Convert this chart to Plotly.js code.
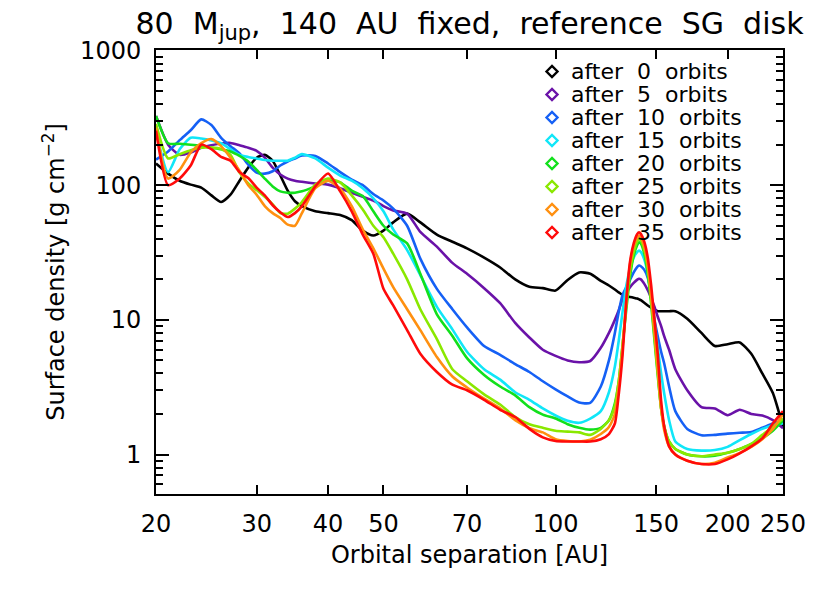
<!DOCTYPE html>
<html>
<head>
<meta charset="utf-8">
<script src="https://cdn.plot.ly/plotly-3.0.1.min.js"></script>
<style>
  html, body { margin: 0; padding: 0; background: #fff; }
  #plot { width: 830px; height: 593px; }
</style>
</head>
<body>
<div id="plot"></div>
<script>
// orbital separation grid [AU]
const radius = [20,21,22,23,24,25,26,27,28,29,30,31,32,33,34,35,36,38,40,42,44,46,48,50,
  52,55,58,62,66,70,75,80,85,90,95,100,105,110,115,120,
  124,127,129,131,133,135,137,139,140,141,143,145,147,149,151,153,155,158,162,
  170,180,190,200,210,220,230,240,250];

// surface density [g cm^-2], one array per snapshot
const after0 = [145,122,108,101,96,84,75,85,108,135,160,168,152,118,91,76,70,64,62,60,55,46,42.3,46,
  53,61.5,53,43,38,34,29,24.5,20,17.6,17.2,16.5,19.8,22.5,22,19.5,
  18,16.8,16,15.3,15,14.8,14.6,14.4,14.2,14.0,13.4,12.8,12.3,11.9,11.6,11.6,11.6,11.6,11.6,
  10.2,8.0,6.4,6.6,6.8,5.6,4.0,2.86,1.6];
const after5 = [327,200,168,175,190,198,204,206,198,190,180,160,135,120,112,108,106,103,101,95,88,82,77,70,
  65,61.5,45,35,26.5,22,17.2,13.3,9.5,7.4,6.0,5.4,5.0,4.85,4.95,6.2,
  8.0,10,11.8,14.2,16,17.5,18.8,19.9,20.2,20,18.5,16.6,14.5,12.5,10.5,9.0,7.5,6.0,4.3,
  3.0,2.25,2.2,1.96,2.15,2.0,1.95,1.8,1.57];
const after10 = [155,178,216,256,308,280,225,195,172,142,124,122,127,140,150,158,166,165,145,125,110,100,86,77,
  67,50,28.5,17,12,8.8,6.4,5.5,4.7,4.1,3.5,3.05,2.7,2.43,2.42,3.2,
  5.0,8.0,11.5,15.3,17.5,19.8,22.5,24.7,25.3,25,23.5,20.5,15.5,10,7.5,5.8,4.7,3.2,2.1,
  1.55,1.39,1.40,1.43,1.45,1.47,1.58,1.7,1.78];
const after15 = [254,125,185,225,222,215,205,185,168,162,158,154,152,152,152,160,170,158,135,118,108,95,80,64,
  47,33,21.5,12.5,8.5,5.8,4.3,3.6,2.9,2.55,2.2,1.95,1.78,1.72,1.85,2.1,
  2.9,4.5,7,11.5,18,24,29,32,32.7,32,28,22,15,9.5,6.2,4.0,2.8,1.8,1.25,
  1.1,1.07,1.08,1.14,1.28,1.42,1.55,1.65,1.7];
const after20 = [327,205,203,200,196,190,185,178,165,150,130,112,98,90,88,88,90,98,108,105,91,83,64,50,
  43,37,22,11,7.6,5.2,3.9,3.2,2.75,2.25,1.98,1.85,1.68,1.58,1.53,1.58,
  1.8,2.4,3.5,6.5,12,21,30,36,37.7,37,31,22,13,7,3.8,2.2,1.6,1.25,1.1,
  1.0,0.97,0.98,1.03,1.1,1.2,1.32,1.5,1.8];
const after25 = [285,158,170,182,190,190,186,168,124,103,92,82,72,62,61.5,67,75,101,112,105,84,66,50,41,
  31,20,12,7.2,4.3,3.5,2.8,2.35,1.9,1.68,1.58,1.5,1.48,1.46,1.4,1.55,
  1.8,2.3,3.5,6.5,13,23,32,38.5,40,39,33,24,14,7.5,4.0,2.2,1.6,1.25,1.1,
  1.0,0.97,1.0,1.03,1.1,1.2,1.4,1.6,1.85];
const after30 = [267,112,130,175,205,220,195,160,128,100,85,70,62,57,51,50,62,95,108,94,70,47,34,24,
  17.5,12,8.4,5.3,3.8,3.15,2.6,2.2,1.8,1.57,1.46,1.3,1.26,1.25,1.29,1.42,
  1.6,2.0,3.2,6.2,14,26,35.5,41,42.3,41,35,26,15,8,4.2,2.2,1.5,1.15,1.0,
  0.9,0.85,0.87,0.95,1.03,1.14,1.3,1.55,2.0];
const after35 = [254,100,112,140,200,185,162,152,125,113,96,84,71,63,58,62,70,98,122,90,64,43,31,17,
  12.8,8.4,5.6,4.1,3.3,3.0,2.55,2.15,1.9,1.55,1.34,1.26,1.25,1.25,1.25,1.3,
  1.42,1.7,2.8,5.5,14,27,37,43.5,44.7,43.5,38,29,18,10,5.5,2.5,1.6,1.15,1.0,
  0.9,0.85,0.85,0.92,1.02,1.15,1.32,1.7,2.1];

const orbits = [0, 5, 10, 15, 20, 25, 30, 35];
const series = [after0, after5, after10, after15, after20, after25, after30, after35];
const colors = ['#000000', '#6a12a8', '#1560f5', '#10e6f8', '#12e01c', '#8ae800', '#ff9010', '#ff0a0a'];

const xTicks = [20, 30, 40, 50, 70, 100, 150, 200, 250];
const yTicks = [1, 10, 100, 1000];
const yMinor = [0.6,0.7,0.8,0.9, 2,3,4,5,6,7,8,9, 20,30,40,50,60,70,80,90, 200,300,400,500,600,700,800,900];

const font = 'DejaVu Sans, Verdana, sans-serif';
const gap = '\u00a0 ';  // IDL fonts space words widely

const traces = series.map(function(y, i) {
    return {
        type: 'scatter',
        mode: 'lines',
        x: radius,
        y: y,
        name: 'after ' + orbits[i] + ' orbits',
        line: { color: colors[i], width: 2.6, shape: 'spline', smoothing: 0.6 },
        showlegend: false
    };
});

// legend drawn by hand, IDL style (tight rows, open diamonds)
const legTop = 71.5, legStep = 23, plotTop = 50, plotH = 444, plotL = 156, plotW = 627;
const annotations = [];
const shapes = [];
orbits.forEach(function(n, i) {
    const py = legTop + i * legStep;
    const yp = 1 - (py - plotTop) / plotH;
    const xc = (552 - plotL) / plotW, dx = 5.5 / plotW, dy = 5.5 / plotH;
    shapes.push({
        type: 'path', xref: 'paper', yref: 'paper',
        path: 'M' + (xc - dx) + ',' + yp + ' L' + xc + ',' + (yp + dy) + ' L' + (xc + dx) + ',' + yp +
              ' L' + xc + ',' + (yp - dy) + ' Z',
        line: { color: colors[i], width: 2.4 }
    });
    annotations.push({
        xref: 'paper', yref: 'paper', x: (570 - plotL) / plotW, y: yp,
        xanchor: 'left', yanchor: 'middle', showarrow: false, height: 23, borderpad: 0,
        text: 'after' + gap + n + gap + 'orbits', font: { family: font, size: 22, color: '#000' }
    });
});

const layout = {
    width: 830,
    height: 593,
    margin: { l: 156, r: 47, t: 50, b: 99 },
    paper_bgcolor: '#fff',
    plot_bgcolor: '#fff',
    font: { family: font, color: '#000', size: 23 },
    title: {
        text: '80' + gap + 'M<sub>jup</sub>,' + gap + '140' + gap + 'AU' + gap + 'fixed,' + gap +
              'reference' + gap + 'SG' + gap + 'disk',
        font: { family: font, size: 30, color: '#000' },
        x: 0.5, xref: 'paper', xanchor: 'center',
        y: 1 - 23 / 593, yref: 'container', yanchor: 'middle'
    },
    xaxis: {
        type: 'log',
        range: [Math.log10(20), Math.log10(250)],
        tickvals: xTicks,
        ticktext: xTicks.map(String),
        ticks: 'inside', ticklen: 9, tickwidth: 2, tickcolor: '#000',
        showline: true, linewidth: 2, linecolor: '#000', mirror: 'ticks',
        showgrid: false, zeroline: false,
        tickfont: { family: font, size: 24 },
        ticklabelstandoff: 7,
        title: { text: 'Orbital separation [AU]', font: { family: font, size: 24 }, standoff: 9 }
    },
    yaxis: {
        type: 'log',
        range: [-0.293, 3.004],
        tickvals: yTicks,
        ticktext: yTicks.map(String),
        ticks: 'inside', ticklen: 13, tickwidth: 2, tickcolor: '#000',
        minor: { tickmode: 'array', tickvals: yMinor, ticks: 'inside', ticklen: 7, tickwidth: 2, tickcolor: '#000', showgrid: false },
        showline: true, linewidth: 2, linecolor: '#000', mirror: 'ticks',
        showgrid: false, zeroline: false,
        tickfont: { family: font, size: 24 },
        ticklabelstandoff: 8,
        title: { text: 'Surface density [g cm<sup>−2</sup>]', font: { family: font, size: 24 }, standoff: 9 }
    },
    annotations: annotations,
    shapes: shapes,
    showlegend: false
};

Plotly.newPlot('plot', traces, layout, { displayModeBar: false, staticPlot: true });
</script>
</body>
</html>
